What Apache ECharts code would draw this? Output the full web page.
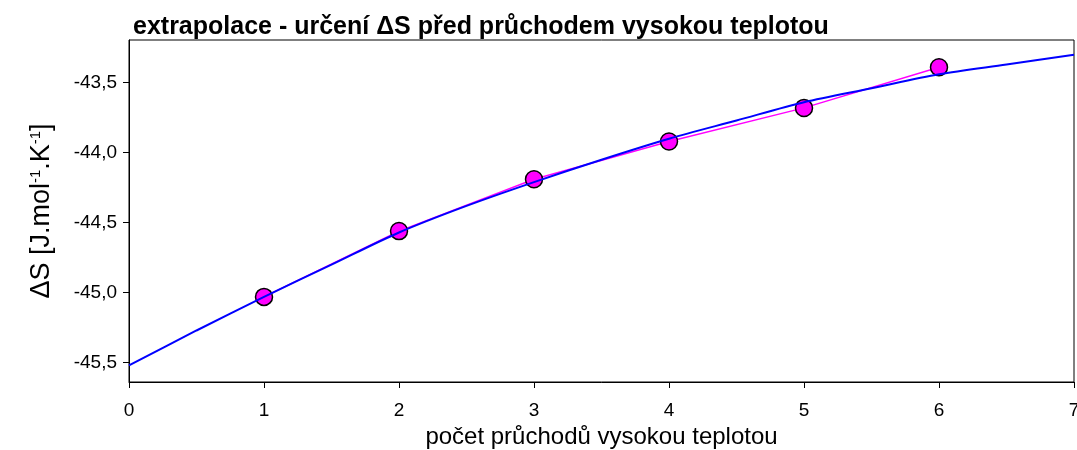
<!DOCTYPE html>
<html>
<head>
<meta charset="utf-8">
<script src="https://cdn.jsdelivr.net/npm/echarts@6/dist/echarts.min.js"></script>
<style>html,body{margin:0;padding:0;background:#fff;}#c{width:1077px;height:450px;}</style>
</head>
<body>
<div id="c"></div>
<script>
// measured points
const pointX = [1, 2, 3, 4, 5, 6];
const pointY = [-45.03, -44.56, -44.19, -43.92, -43.68, -43.39];
// fitted curve
const curveX = [0, 0.5, 1, 1.5, 2, 2.5, 3, 3.5, 4, 4.5, 5, 5.5, 6, 6.5, 7];
const curveY = [-45.52, -45.27, -45.03, -44.80, -44.57, -44.38, -44.21, -44.05, -43.90, -43.77, -43.64, -43.54, -43.44, -43.37, -43.30];
const yTicks = [-45.5, -45.0, -44.5, -44.0, -43.5];
const xTicks = [0, 1, 2, 3, 4, 5, 6, 7];

const font = 'Liberation Sans, Arial, sans-serif';
const chart = echarts.init(document.getElementById('c'), null, {renderer: 'canvas'});
chart.setOption({
  animation: false,
  backgroundColor: '#fff',
  title: {
    text: 'extrapolace - určení \u0394S před průchodem vysokou teplotou',
    left: 128, top: 10,
    textStyle: {fontFamily: font, fontSize: 25, fontWeight: 'bold', color: '#000'}
  },
  grid: {left: 129, right: 3, top: 40, bottom: 68, show: true, borderColor: '#000', borderWidth: 1,
    backgroundColor: 'transparent', outerBoundsMode: 'none', containLabel: false},
  xAxis: {
    type: 'value', min: 0, max: 7, interval: 1,
    name: 'počet průchodů vysokou teplotou', nameLocation: 'middle', nameGap: 41,
    nameTextStyle: {fontFamily: font, fontSize: 24, color: '#000'},
    axisLine: {show: true, lineStyle: {color: '#000', width: 1}},
    axisTick: {show: true, length: 6, lineStyle: {color: '#000'}, customValues: xTicks},
    axisLabel: {fontFamily: font, fontSize: 19, color: '#000', margin: 19, customValues: xTicks, formatter: v => String(v)},
    splitLine: {show: false}
  },
  yAxis: {
    type: 'value', min: -45.638, max: -43.195,
    name: '{a|\u0394S [J.mol}{s|-1}{a|.K}{s|-1}{a|]}', nameLocation: 'middle', nameGap: 74, nameRotate: 90,
    nameTextStyle: {fontFamily: font, fontSize: 27, color: '#000',
      rich: {
        a: {fontFamily: font, fontSize: 27, color: '#000'},
        s: {fontFamily: font, fontSize: 15, color: '#000', verticalAlign: 'top'}
      }},
    axisLine: {show: true, lineStyle: {color: '#000', width: 1}},
    axisTick: {show: true, length: 6, lineStyle: {color: '#000'}, customValues: yTicks},
    axisLabel: {fontFamily: font, fontSize: 19, color: '#000', margin: 12, customValues: yTicks,
      formatter: v => v.toFixed(1).replace('.', ',')},
    splitLine: {show: false}
  },
  series: [
    {
      type: 'line', data: pointX.map((x, i) => [x, pointY[i]]),
      showSymbol: false, symbol: 'none', lineStyle: {color: '#ff00ff', width: 1.5}, z: 2
    },
    {
      type: 'scatter', data: pointX.map((x, i) => [x, pointY[i]]),
      symbol: 'circle', symbolSize: 17,
      itemStyle: {color: '#ff00ff', borderColor: '#000', borderWidth: 1.5, opacity: 1}, z: 3
    },
    {
      type: 'line', data: curveX.map((x, i) => [x, curveY[i]]),
      smooth: 0.3, symbol: 'none', lineStyle: {color: '#0000ff', width: 2}, z: 4
    }
  ]
});
</script>
</body>
</html>
